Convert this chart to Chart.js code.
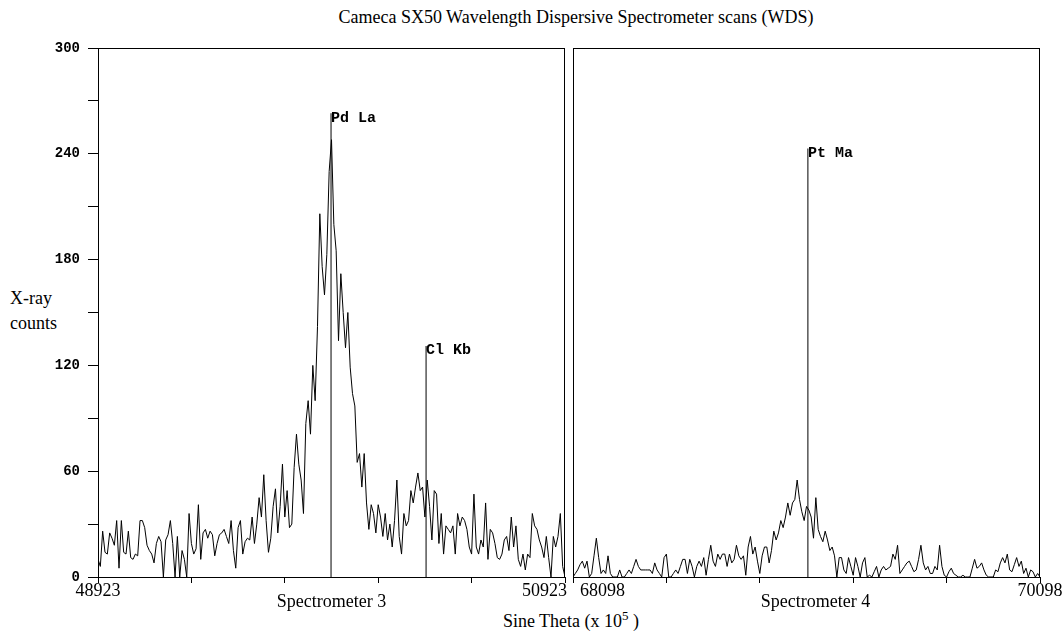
<!DOCTYPE html>
<html>
<head>
<meta charset="utf-8">
<title>WDS scans</title>
<script src="https://cdn.jsdelivr.net/npm/chart.js@4.4.1/dist/chart.umd.min.js"></script>
<style>
  html, body { margin: 0; padding: 0; background: #fff; }
  #wrap { position: relative; width: 1062px; height: 635px; overflow: hidden; background: #fff; }
  #wrap canvas { position: absolute; left: 0; top: 0; }
  .txt {
    position: absolute;
    font-family: "Liberation Serif", "DejaVu Serif", serif;
    font-size: 18px;
    line-height: 20px;
    color: #000;
    white-space: nowrap;
  }
  .mid { transform: translateX(-50%); }
</style>
</head>
<body>
<div id="wrap">
  <div class="txt mid" style="left:576px; top:7px;">Cameca SX50 Wavelength Dispersive Spectrometer scans (WDS)</div>
  <div class="txt" style="left:10px; top:286px; line-height:25px;">X-ray<br>counts</div>
  <div class="txt mid" style="left:571px; top:611px;">Sine Theta (x 10<span style="position:relative; top:-7px; font-size:13px;">5</span> )</div>
  <canvas id="spec3" width="1062" height="635"></canvas>
  <canvas id="spec4" width="1062" height="635"></canvas>
</div>

<script>
// counts per channel, one channel every 10 sine-theta units
var STEP = 10;

var start3 = 48923;
var counts3 = [
  10, 6, 26, 14, 13, 25, 22, 18, 32, 5,
  32, 14, 13, 26, 11, 10, 13, 12, 32, 32,
  28, 18, 15, 13, 8, 19, 23, 20, 0, 21,
  24, 32, 19, 0, 23, 0, 15, 10, 0, 36,
  19, 13, 16, 41, 10, 25, 27, 22, 26, 24,
  12, 19, 24, 25, 27, 23, 19, 32, 15, 5,
  28, 32, 13, 20, 22, 21, 34, 19, 30, 45,
  34, 58, 32, 14, 22, 40, 50, 25, 40, 64,
  34, 49, 28,
  30, 62, 81, 64, 55, 36, 87, 100, 81, 120,
  100, 142, 206, 176, 160, 183, 230, 248, 200, 185,
  134, 172, 150, 130, 150, 119, 104,
  97, 65, 70, 51, 70, 42, 27, 41, 36, 25,
  41, 34, 23, 36, 21, 30, 17, 32, 55, 23,
  13, 36, 29, 32, 49, 42, 51, 59, 49, 51,
  34, 55, 40, 21, 49, 47, 19, 36, 13, 29,
  27, 25, 29, 13, 36, 29, 34, 32, 27, 17,
  13, 47, 17, 13,
  21, 17, 42, 10, 27, 25, 19, 11, 10, 13,
  21, 23, 15, 34, 17, 29, 10, 6, 13, 4,
  13, 11, 36, 29, 27, 21, 17, 11, 23, 11,
  0, 23, 17, 23, 36, 6, 0
];

var start4 = 68098;
var counts4 = [
  0, 2, 4, 7, 9, 5, 9, 0, 2, 12,
  22, 11, 2, 4, 2, 12, 2, 0, 0, 0,
  4, 0, 0, 2, 4, 2, 6, 10, 6, 4,
  4, 4, 4, 4, 2, 8, 4, 2, 0, 11,
  13, 0, 0, 2, 4, 2, 6, 10, 10, 2,
  10, 6, 0, 6, 9, 6, 11, 1, 10, 18,
  9, 6, 13, 10, 13, 13, 6, 13, 8, 10,
  18, 12, 10, 12, 1, 17, 23, 13, 17, 9,
  2, 12, 17,
  17, 8, 15, 26, 21, 25, 32, 28, 34, 42,
  35, 42, 44, 55, 44, 37, 32, 40, 38, 34,
  22, 45, 27, 23, 20, 26, 21, 15, 17, 12,
  0, 11, 11, 4, 2, 11, 6, 1, 11, 6,
  0, 8, 11, 0, 1, 0, 3, 6, 0,
  4, 6, 4, 5, 6, 13, 10, 18, 2, 4,
  6, 8, 9, 6, 3, 4, 10, 18, 8, 4,
  6, 2, 2, 6, 4, 18, 6, 1, 0, 3,
  5, 2, 1, 0, 0, 1, 0, 0, 0, 5,
  10, 5, 6, 8, 4, 1, 0, 0, 0, 4,
  3, 8, 11, 8, 13, 4, 3, 7, 11, 6,
  9, 2, 5, 0, 4, 3, 0, 2, 0
];

var ticks3 = [48923, 49323, 49723, 50123, 50523, 50923];
var ticks4 = [68098, 68498, 68898, 69298, 69698, 70098];

// line identifications: name, sine theta position, marker height
var peakNames3 = ['Pd La', 'Cl Kb'];
var peakPos3 = [49921, 50328];
var peakTop3 = [263, 131];
var peakNames4 = ['Pt Ma'];
var peakPos4 = [69104];
var peakTop4 = [243];

var SERIF = '"Liberation Serif", "DejaVu Serif", serif';
var MONO = '"Liberation Mono", "DejaVu Sans Mono", monospace';

function toPoints(start, counts) {
  return counts.map(function (c, i) { return { x: start + i * STEP, y: c }; });
}

function peakSets(pos, top) {
  return pos.map(function (p, k) {
    return {
      data: [{ x: p, y: 0 }, { x: p, y: top[k] }],
      borderColor: '#000',
      borderWidth: 1,
      pointRadius: 0
    };
  });
}

// box round the plot area
var framePlugin = {
  id: 'frame',
  afterDraw: function (chart) {
    var a = chart.chartArea, ctx = chart.ctx;
    ctx.save();
    ctx.strokeStyle = '#000';
    ctx.lineWidth = 1;
    ctx.strokeRect(Math.round(a.left) + 0.5, Math.round(a.top) + 0.5,
      Math.round(a.right - a.left) - 1, Math.round(a.bottom - a.top));
    ctx.restore();
  }
};

function peakLabels(names, pos, top) {
  return {
    id: 'peakLabels',
    afterDatasetsDraw: function (chart) {
      var xs = chart.scales.x, ys = chart.scales.y, ctx = chart.ctx;
      ctx.save();
      ctx.font = 'bold 15px ' + MONO;
      ctx.fillStyle = '#000';
      ctx.textBaseline = 'top';
      ctx.textAlign = 'left';
      names.forEach(function (n, k) {
        ctx.fillText(n, xs.getPixelForValue(pos[k]), ys.getPixelForValue(top[k]) - 3);
      });
      ctx.restore();
    }
  };
}

// end values and spectrometer name under the x axis
function axisLabels(ticks, firstAlign, lastAlign, name, nameShift) {
  return {
    id: 'axisLabels',
    afterDraw: function (chart) {
      var xs = chart.scales.x, ctx = chart.ctx, b = chart.chartArea.bottom;
      var first = ticks[0], last = ticks[ticks.length - 1];
      ctx.save();
      ctx.font = '18px ' + SERIF;
      ctx.fillStyle = '#000';
      ctx.textBaseline = 'middle';
      ctx.textAlign = firstAlign[0];
      ctx.fillText(String(first), xs.getPixelForValue(first) + firstAlign[1], b + 14);
      ctx.textAlign = lastAlign[0];
      ctx.fillText(String(last), xs.getPixelForValue(last) + lastAlign[1], b + 14);
      ctx.textAlign = 'center';
      ctx.fillText(name, (xs.left + xs.right) / 2 + nameShift, b + 25);
      ctx.restore();
    }
  };
}

function drawPanel(id, cfg) {
  return new Chart(document.getElementById(id), {
    type: 'line',
    data: {
      datasets: [{
        data: toPoints(cfg.start, cfg.counts),
        borderColor: '#000',
        borderWidth: 1,
        pointRadius: 0,
        tension: 0
      }].concat(peakSets(cfg.peakPos, cfg.peakTop))
    },
    options: {
      responsive: false,
      animation: false,
      events: [],
      layout: { padding: cfg.padding },
      plugins: { legend: { display: false }, tooltip: { enabled: false } },
      scales: {
        x: {
          type: 'linear',
          min: cfg.ticks[0],
          max: cfg.ticks[cfg.ticks.length - 1],
          afterBuildTicks: function (scale) {
            scale.ticks = cfg.ticks.map(function (v) { return { value: v }; });
          },
          afterFit: function (scale) { scale.height = 58; },
          grid: { drawOnChartArea: false, drawTicks: true, tickLength: 6, color: '#000' },
          border: { display: true, color: '#000' },
          ticks: { callback: function () { return ''; }, padding: 0 }
        },
        y: {
          display: cfg.showY,
          min: 0,
          max: 300,
          afterFit: function (scale) { scale.width = cfg.showY ? 98 : 0; },
          grid: { drawOnChartArea: false, drawTicks: true, tickLength: 10, color: '#000' },
          border: { display: true, color: '#000' },
          ticks: {
            stepSize: 30,
            padding: 8,
            color: '#000',
            font: { family: MONO, weight: 'bold', size: 14 },
            callback: function (v) { return v % 60 === 0 ? String(v) : ''; }
          }
        }
      }
    },
    plugins: [
      framePlugin,
      peakLabels(cfg.peakNames, cfg.peakPos, cfg.peakTop),
      axisLabels(cfg.ticks, cfg.firstAlign, cfg.lastAlign, cfg.name, cfg.nameShift)
    ]
  });
}

drawPanel('spec3', {
  start: start3, counts: counts3, ticks: ticks3,
  peakNames: peakNames3, peakPos: peakPos3, peakTop: peakTop3,
  padding: { top: 48, right: 497, bottom: 0, left: 0 },
  showY: true,
  firstAlign: ['center', 0], lastAlign: ['right', 2],
  name: 'Spectrometer 3', nameShift: 0
});

drawPanel('spec4', {
  start: start4, counts: counts4, ticks: ticks4,
  peakNames: peakNames4, peakPos: peakPos4, peakTop: peakTop4,
  padding: { top: 48, right: 22, bottom: 0, left: 573 },
  showY: false,
  firstAlign: ['left', 7], lastAlign: ['center', 0],
  name: 'Spectrometer 4', nameShift: 9
});
</script>
</body>
</html>
